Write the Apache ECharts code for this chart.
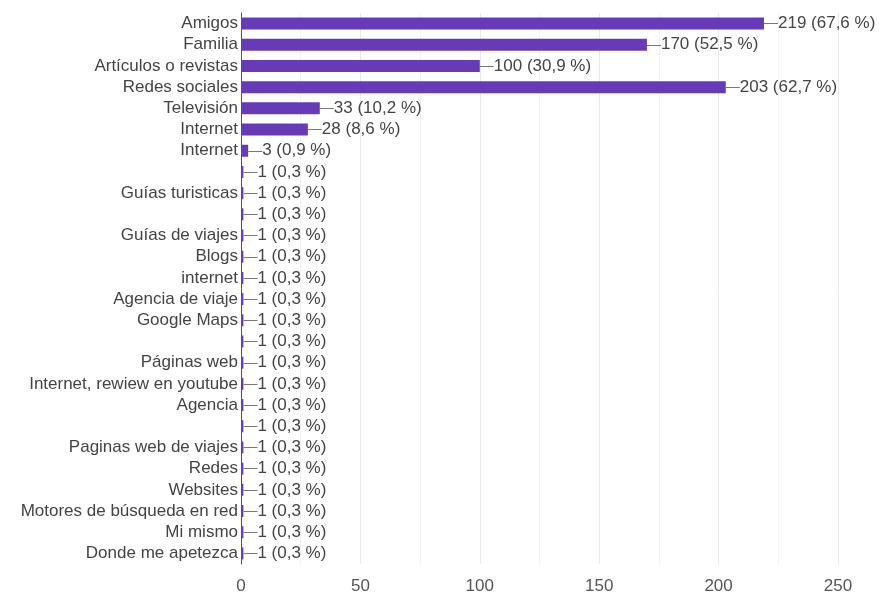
<!DOCTYPE html>
<html>
<head>
<meta charset="utf-8">
<script src="https://cdn.jsdelivr.net/npm/echarts@6/dist/echarts.min.js"></script>
<style>
html,body{margin:0;padding:0;background:#fff;}
#c{width:880px;height:595px;}
</style>
</head>
<body>
<div id="c"></div>
<script>
var categories = ["Amigos","Familia","Artículos o revistas","Redes sociales","Televisión","Internet","Internet","","Guías turisticas","","Guías de viajes","Blogs","internet","Agencia de viaje","Google Maps","","Páginas web","Internet, rewiew en youtube","Agencia","","Paginas web de viajes","Redes","Websites","Motores de búsqueda en red","Mi mismo","Donde me apetezca"];
var counts = [219,170,100,203,33,28,3,1,1,1,1,1,1,1,1,1,1,1,1,1,1,1,1,1,1,1];
var percents = ["67,6","52,5","30,9","62,7","10,2","8,6","0,9","0,3","0,3","0,3","0,3","0,3","0,3","0,3","0,3","0,3","0,3","0,3","0,3","0,3","0,3","0,3","0,3","0,3","0,3","0,3"];
var xTicks = [0,50,100,150,200,250];

var chart = echarts.init(document.getElementById('c'), null, {renderer:'canvas'});
var idx = categories.map(function(_, i){ return String(i); });
chart.setOption({
  animation:false,
  textStyle:{fontFamily:'Arial, "Liberation Sans", sans-serif'},
  grid:{left:241, right:42, top:13, bottom:26, containLabel:false},
  xAxis:{
    type:'value', min:xTicks[0], max:xTicks[xTicks.length-1], interval:50,
    axisLine:{show:false}, axisTick:{show:false},
    axisLabel:{color:'#555', fontSize:17, margin:14},
    splitLine:{show:true, lineStyle:{color:'#e9e9e9', width:1}},
    minorTick:{show:false, splitNumber:2},
    minorSplitLine:{show:true, lineStyle:{color:'#f3f3f3', width:1}}
  },
  yAxis:{
    type:'category', inverse:true, data:idx,
    axisLine:{show:true, lineStyle:{color:'#555', width:1}},
    axisTick:{show:false},
    axisLabel:{color:'#444', fontSize:17, margin:3, interval:0, hideOverlap:false,
      formatter:function(v, i){ return categories[+v]; }}
  },
  series:[{
    type:'bar', data:counts, barWidth:12,
    itemStyle:{color:'#673ab7'},
    label:{show:true, position:'right', distance:0, color:'#444',
      formatter:function(p){ return '{d|\u2014}{t|' + p.value + ' (' + percents[p.dataIndex] + ' %)}'; },
      rich:{d:{fontSize:14, color:'#777'}, t:{fontSize:17, color:'#444'}}}
  }]
});
</script>
</body>
</html>
